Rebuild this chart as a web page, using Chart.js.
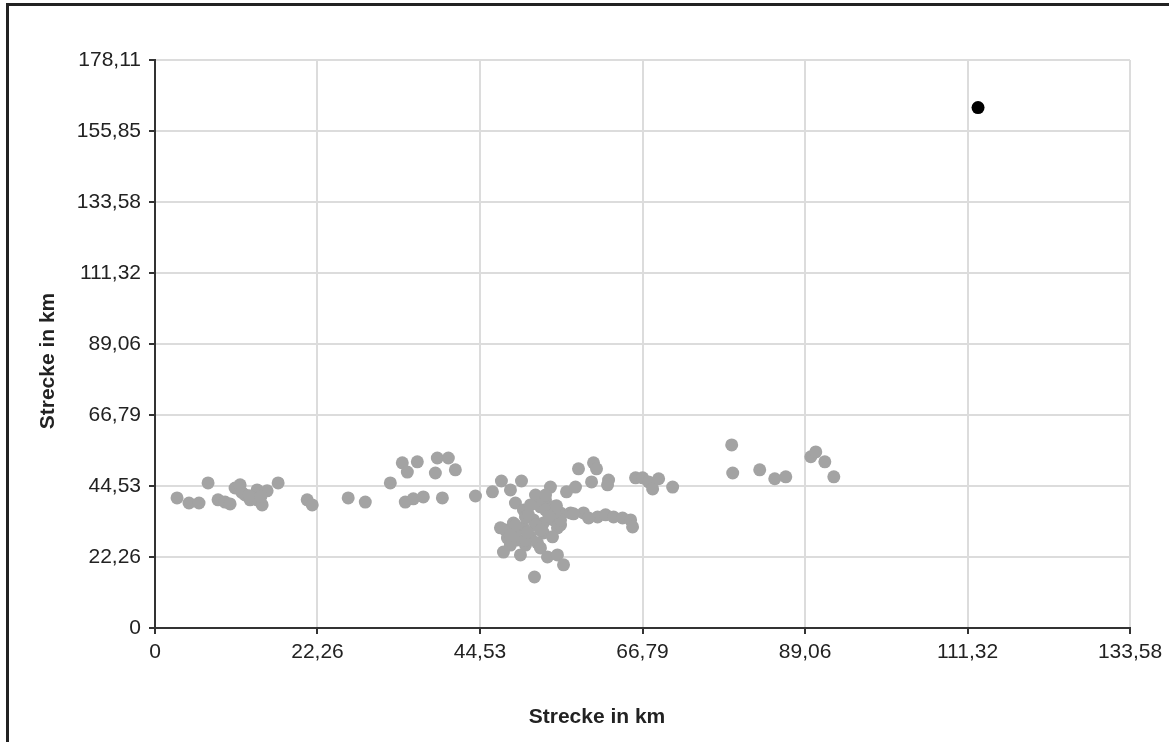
<!DOCTYPE html>
<html lang="de">
<head>
<meta charset="utf-8">
<title>Strecke in km</title>
<script src="https://cdn.jsdelivr.net/npm/chart.js@4/dist/chart.umd.min.js"></script>
<style>
    body { margin: 0; background: #fff; font-family: "Liberation Sans", Arial, sans-serif; }
    #wrap { position: relative; width: 1169px; height: 742px; overflow: hidden; }
    #frame { position: absolute; left: 6px; top: 3px; width: 1300px; height: 900px;
             border-top: 3px solid #222; border-left: 3px solid #222; }
    .title { position: absolute; font-weight: bold; font-size: 21px; color: #222; white-space: nowrap; }
    #xTitle { left: 597px; top: 716px; transform: translate(-50%, -50%); }
    #yTitle { left: 47px; top: 361px; transform: translate(-50%, -50%) rotate(-90deg); }
</style>
</head>
<body>
<div id="wrap">
    <canvas id="chart" width="1169" height="742"></canvas>
    <div id="frame"></div>
    <div class="title" id="xTitle">Strecke in km</div>
    <div class="title" id="yTitle">Strecke in km</div>
</div>
<script>
// Achsenbeschriftungen
const xTicks = [0, 22.26, 44.53, 66.79, 89.06, 111.32, 133.58];
const yTicks = [0, 22.26, 44.53, 66.79, 89.06, 111.32, 133.58, 155.85, 178.11];

// Messpunkte (grau)
const streckeX = [
    3.02, 4.66, 6.03, 7.27, 8.64, 9.60, 10.29, 10.97, 11.66, 12.35, 13.03, 13.99, 13.99, 14.68, 15.36, 16.87,
    11.9, 12.9, 14.5,
    20.85, 21.54, 26.47, 28.81, 32.24, 33.88, 34.57, 35.94, 38.68, 40.19, 38.41, 41.15, 34.29, 35.39, 36.76, 39.37, 43.90,
    46.23, 47.46, 48.70, 50.21, 49.38, 52.13, 54.18, 56.38, 57.61, 58.02, 60.08, 60.49, 59.81, 62.14, 62.00,
    65.84, 66.80, 67.63, 68.18, 69.00, 70.92,
    50.48, 52.81, 53.50, 54.60, 55.56, 56.93, 58.71, 60.63, 48.01, 49.11, 50.48, 51.85, 53.22, 54.60, 55.14,
    53.22, 51.44, 49.66, 48.29, 52.40, 54.46, 50.76, 53.91, 48.70, 47.74, 50.07, 52.81, 53.77, 55.14, 55.97,
    51.99, 52.67, 51.17, 55.56, 47.33, 49.38, 50.76,
    51.44, 53.50, 52.13, 52.81, 49.38, 55.56, 53.50, 50.76, 54.87, 55.00, 48.70, 54.0, 51.0,
    57.34, 59.40, 61.73, 62.83, 64.06, 65.16, 65.43,
    79.01, 79.15, 82.85, 84.91, 86.42, 89.85, 90.53, 91.77, 93.00
];
const streckeY = [
    40.8, 39.2, 39.2, 45.5, 40.2, 39.5, 38.9, 43.9, 44.9, 41.7, 40.2, 43.3, 40.2, 38.6, 43.0, 45.5,
    42.5, 41.5, 41.2,
    40.2, 38.6, 40.8, 39.5, 45.5, 51.8, 48.9, 52.1, 53.3, 53.3, 48.6, 49.6, 39.5, 40.5, 41.1, 40.8, 41.4,
    42.7, 46.1, 43.3, 46.1, 39.2, 41.7, 44.2, 42.7, 44.2, 49.9, 51.8, 49.9, 45.8, 46.4, 44.9,
    47.1, 47.1, 45.8, 43.6, 46.8, 44.2,
    37.0, 38.0, 40.2, 38.0, 36.1, 36.1, 36.1, 34.8, 30.7, 32.9, 31.4, 33.9, 32.9, 33.9, 31.4,
    29.8, 28.6, 27.6, 28.2, 26.7, 28.6, 34.8, 36.1, 26.0, 23.8, 22.9, 25.1, 22.3, 22.9, 19.8,
    16.0, 38.6, 35.5, 32.3, 31.4, 29.2, 26.0,
    38.6, 37.0, 32.3, 30.7, 32.3, 33.9, 41.7, 27.6, 36.4, 38.3, 29.2, 35.0, 30.0,
    35.8, 34.5, 35.5, 34.8, 34.5, 33.9, 31.7,
    57.4, 48.6, 49.6, 46.8, 47.4, 53.7, 55.2, 52.1, 47.4
];

// Ausreißer (schwarz)
const ausreisserX = [112.76];
const ausreisserY = [163.2];

function fmt(v) {
    return String(v).replace(".", ",");
}

function toPoints(xs, ys) {
    return xs.map((x, i) => ({ x: x, y: ys[i] }));
}

function axis(ticks, max, isX) {
    return {
        type: "linear",
        min: 0,
        max: max,
        afterBuildTicks: scale => { scale.ticks = ticks.map(v => ({ value: v })); },
        afterFit: scale => {
            if (isX) scale.height = 114;
            else scale.width = 155;
        },
        ticks: {
            autoSkip: false,
            padding: isX ? 6 : 8,
            color: "#222",
            font: { family: "Liberation Sans", size: 21 },
            callback: (value, index) => fmt(ticks[index])
        },
        grid: {
            color: "#dcdcdc",
            lineWidth: 2,
            tickColor: "#333",
            tickLength: 6,
            tickWidth: 2
        },
        border: { color: "#333", width: 2 }
    };
}

new Chart(document.getElementById("chart").getContext("2d"), {
    type: "scatter",
    data: {
        datasets: [{
            label: "Strecke",
            data: toPoints(streckeX, streckeY),
            backgroundColor: "#a3a3a3",
            borderWidth: 0,
            pointRadius: 6.5
        }, {
            label: "Ausreißer",
            data: toPoints(ausreisserX, ausreisserY),
            backgroundColor: "#000",
            borderWidth: 0,
            pointRadius: 6.5
        }]
    },
    options: {
        responsive: false,
        animation: false,
        layout: { padding: { left: 0, top: 60, right: 39, bottom: 0 } },
        plugins: { legend: { display: false }, tooltip: { enabled: false } },
        scales: {
            x: axis(xTicks, 133.58, true),
            y: axis(yTicks, 178.11, false)
        }
    }
});
</script>
</body>
</html>
